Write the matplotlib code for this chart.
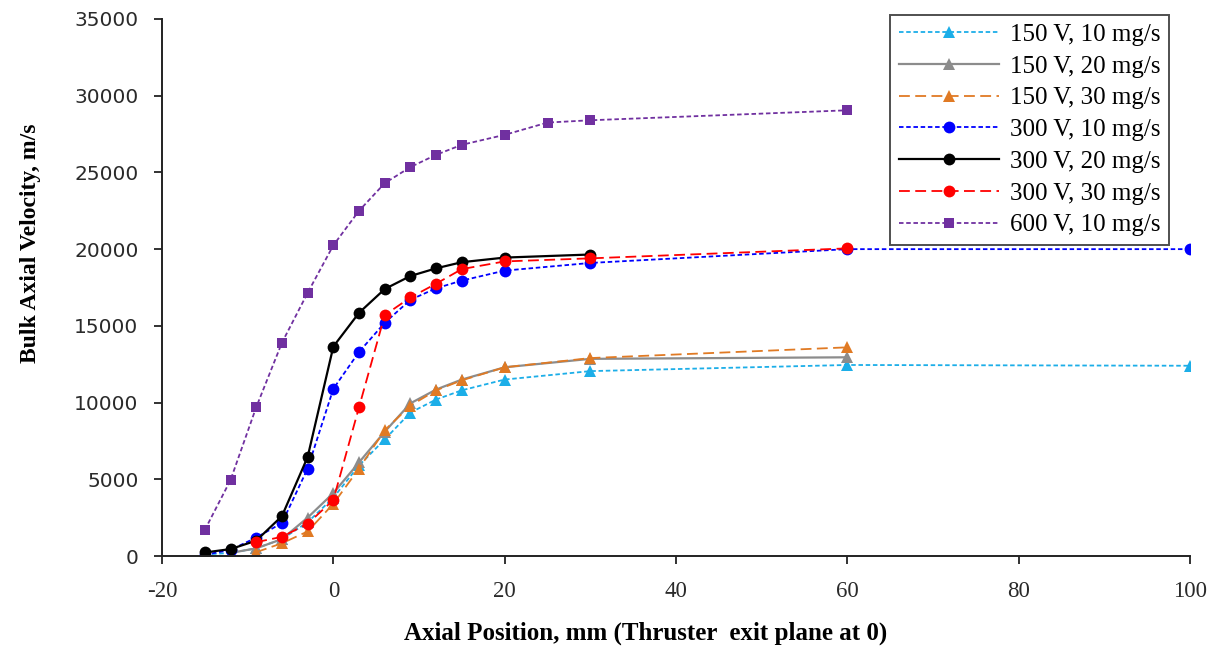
import matplotlib
matplotlib.use("Agg")
import matplotlib.pyplot as plt

plt.rcParams["axes.unicode_minus"] = False

# ---- data ----
x_150_10 = [-15, -12, -9, -6, -3, 0, 3, 6, 9, 12, 15, 20, 30, 60, 100]
y_150_10 = [100, 200, 500, 1100, 2200, 3800, 5900, 7600, 9350, 10200, 10800, 11500, 12050, 12450, 12400]

x_150_20 = [-12, -9, -6, -3, 0, 3, 6, 9, 12, 15, 20, 30, 60]
y_150_20 = [200, 500, 1100, 2500, 4100, 6100, 8100, 9950, 10850, 11500, 12300, 12850, 12950]

x_150_30 = [-9, -6, -3, 0, 3, 6, 9, 12, 15, 20, 30, 60]
y_150_30 = [250, 830, 1600, 3400, 5700, 8200, 9800, 10800, 11450, 12300, 12900, 13600]

x_300_10 = [-15, -12, -9, -6, -3, 0, 3, 6, 9, 12, 15, 20, 30, 60, 100]
y_300_10 = [80, 400, 1200, 2150, 5700, 10900, 13300, 15200, 16700, 17450, 17950, 18600, 19100, 20000, 20000]

x_300_20 = [-15, -12, -9, -6, -3, 0, 3, 6, 9, 12, 15, 20, 30]
y_300_20 = [230, 450, 1000, 2600, 6450, 13650, 15850, 17400, 18250, 18750, 19150, 19450, 19650]

x_300_30 = [-9, -6, -3, 0, 3, 6, 9, 12, 15, 20, 30, 60]
y_300_30 = [900, 1250, 2100, 3650, 9700, 15700, 16850, 17750, 18700, 19200, 19400, 20050]

x_600_10 = [-15, -12, -9, -6, -3, 0, 3, 6, 9, 12, 15, 20, 25, 30, 60]
y_600_10 = [1700, 4950, 9700, 13900, 17150, 20250, 22500, 24300, 25350, 26150, 26800, 27450, 28250, 28400, 29050]

labels = ["150 V, 10 mg/s", "150 V, 20 mg/s", "150 V, 30 mg/s",
          "300 V, 10 mg/s", "300 V, 20 mg/s", "300 V, 30 mg/s", "600 V, 10 mg/s"]

x_ticks = [-20, 0, 20, 40, 60, 80, 100]
y_ticks = [0, 5000, 10000, 15000, 20000, 25000, 30000, 35000]

# ---- plot ----
fig = plt.figure(figsize=(12.22, 6.46), dpi=100)
ax = fig.add_axes([162/1222, 1-556/646, (1190-162)/1222, (556-19)/646])

series = [
    (x_150_10, y_150_10, dict(color="#1CAEE8", ls=(0, (2.5, 1.5)), lw=1.3, marker="^", ms=9)),
    (x_150_20, y_150_20, dict(color="#8C8C8C", ls="-", lw=1.6, marker="^", ms=9)),
    (x_150_30, y_150_30, dict(color="#E07A24", ls=(0, (6, 3)), lw=1.3, marker="^", ms=9)),
    (x_300_10, y_300_10, dict(color="#0000FF", ls=(0, (2.5, 1.5)), lw=1.3, marker="o", ms=8.5)),
    (x_300_20, y_300_20, dict(color="#000000", ls="-", lw=1.6, marker="o", ms=8.5)),
    (x_300_30, y_300_30, dict(color="#FF0000", ls=(0, (6, 3)), lw=1.3, marker="o", ms=8.5)),
    (x_600_10, y_600_10, dict(color="#7030A0", ls=(0, (2.5, 1.5)), lw=1.3, marker="s", ms=7.5)),
]
for (xs, ys, st), lab in zip(series, labels):
    ax.plot(xs, ys, label=lab, color=st["color"], linestyle=st["ls"], linewidth=st["lw"],
            marker=st["marker"], markersize=st["ms"], markeredgewidth=0)

ax.set_xlim(-20, 100)
ax.set_ylim(0, 35000)
ax.set_xticks(x_ticks)
ax.set_yticks(y_ticks)

for s in ["top", "right"]:
    ax.spines[s].set_visible(False)
for s in ["left", "bottom"]:
    ax.spines[s].set_linewidth(1.4)
    ax.spines[s].set_color("#222222")
ax.tick_params(axis="both", direction="out", length=6, width=1.3, color="#222222")
ax.tick_params(axis="y", labelsize=14.5, pad=11, labelcolor="#2a2a2a")
for t in ax.get_yticklabels():
    t.set_fontfamily("DejaVu Sans")
for t in ax.get_xticklabels():
    t.set_fontfamily("Liberation Serif")
    t.set_fontsize(16.5)
    t.set_color("#2a2a2a")
ax.tick_params(axis="x", pad=12)

ax.set_xlabel("Axial Position, mm (Thruster  exit plane at 0)", fontfamily="Liberation Serif",
              fontweight="bold", fontsize=18)
ax.xaxis.set_label_coords(0.47, -0.122)
ax.set_ylabel("Bulk Axial Velocity, m/s", fontfamily="Liberation Serif",
              fontweight="bold", fontsize=17)
ax.yaxis.set_label_coords(-0.118, 0.583)

leg = ax.legend(loc="upper right", bbox_to_anchor=(0.98, 1.008), prop={"family": "Liberation Serif", "size": 18},
                handlelength=4.0, labelspacing=0.37, frameon=True, fancybox=False, borderpad=0.35,
                handletextpad=0.45, borderaxespad=0)
leg.get_frame().set_edgecolor("#222222")
leg.get_frame().set_linewidth(1.4)

fig.savefig("out.png", dpi=100)
